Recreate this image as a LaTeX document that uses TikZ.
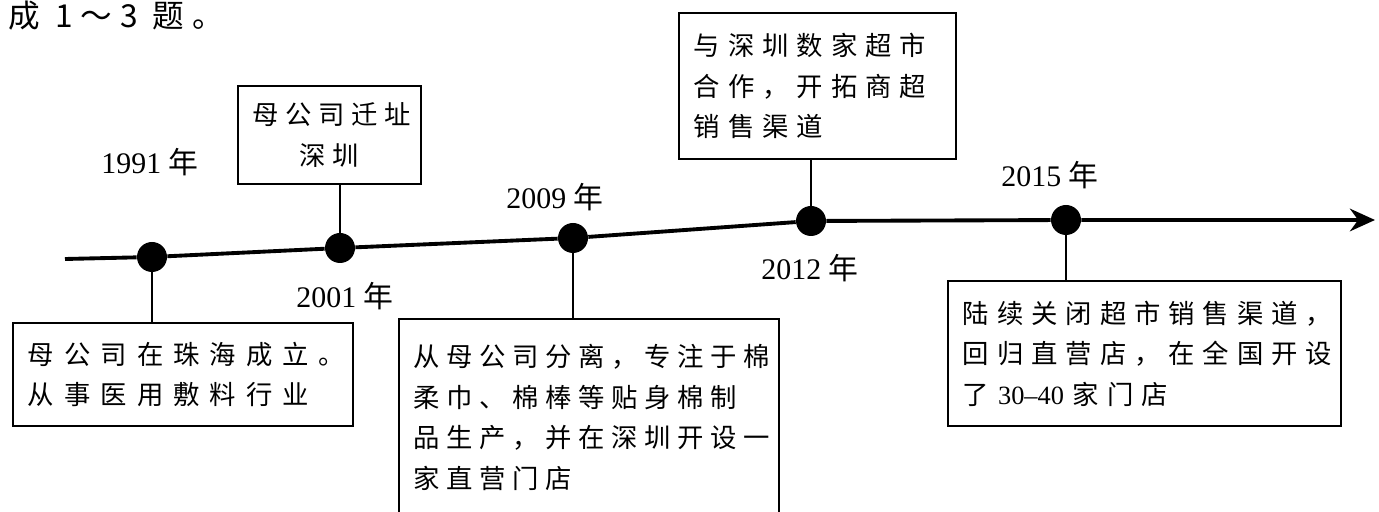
\documentclass[tikz,border=0pt]{standalone}
\usepackage{fontspec}
\setmainfont{Liberation Serif}
\newfontfamily\cjk[LetterSpace=25]{Noto Sans CJK SC}
\usetikzlibrary{arrows.meta}

\tikzset{
  dot/.style={circle, fill, inner sep=0pt, minimum size=6mm},
  eventbox/.style={draw, line width=1.1pt, anchor=north west, inner xsep=3mm,
    font=\cjk\fontsize{15}{23}\selectfont, align=left},
  yearlabel/.style={font=\fontsize{17}{20}\selectfont},
  stem/.style={line width=1.1pt}
}

\begin{document}
\begin{tikzpicture}
            \useasboundingbox (0,0) rectangle (27.58,10.22);

            \node[anchor=west, font=\cjk\fontsize{18}{20}\selectfont] (head) at (0.05,9.9) {成 1～3 题。};

            \coordinate (start) at (1.30,5.04);
            \coordinate (end) at (27.50,5.82);
            \node[dot] (d1991) at (3.04,5.08) {};
            \node[dot] (d2001) at (6.80,5.26) {};
            \node[dot] (d2009) at (11.46,5.46) {};
            \node[dot] (d2012) at (16.22,5.80) {};
            \node[dot] (d2015) at (21.32,5.82) {};

            \node[yearlabel] (y1991) at (3.00,6.98) {1991 {\cjk 年}};
            \node[yearlabel] (y2001) at (6.90,4.30) {2001 {\cjk 年}};
            \node[yearlabel] (y2009) at (11.10,6.28) {2009 {\cjk 年}};
            \node[yearlabel] (y2012) at (16.20,4.86) {2012 {\cjk 年}};
            \node[yearlabel] (y2015) at (21.00,6.72) {2015 {\cjk 年}};

            \node[eventbox, text width=6.2cm, minimum height=2.06cm] (b1991) at (0.24,3.78)
              {\addfontfeature{LetterSpace=38}母公司在珠海成立。\\从事医用敷料行业};
            \node[eventbox, text width=3.06cm, minimum height=1.96cm, align=center] (b2001) at (4.74,8.52)
              {母公司迁址\\深圳};
            \node[eventbox, text width=7.0cm, minimum height=3.94cm] (b2009) at (7.96,3.86)
              {从母公司分离，专注于棉\\柔巾、棉棒等贴身棉制\\品生产，并在深圳开设一\\家直营门店};
            \node[eventbox, text width=4.94cm, minimum height=2.92cm] (b2012) at (13.56,9.98)
              {\addfontfeature{LetterSpace=30}与深圳数家超市\\合作，开拓商超\\销售渠道};
            \node[eventbox, text width=7.26cm, minimum height=2.9cm] (b2015) at (18.94,4.62)
              {\addfontfeature{LetterSpace=30}陆续关闭超市销售渠道，\\回归直营店，在全国开设\\了 {\normalfont 30–40} 家门店};

            \draw[line width=2.2pt, -{Stealth[length=5mm, width=4.5mm]}]
              (start) -- (d1991) -- (d2001) -- (d2009) -- (d2012) -- (d2015) -- (end);

            \draw[stem] (d1991) -- (d1991 |- b1991.north);
            \draw[stem] (d2001) -- (d2001 |- b2001.south);
            \draw[stem] (d2009) -- (d2009 |- b2009.north);
            \draw[stem] (d2012) -- (d2012 |- b2012.south);
            \draw[stem] (d2015) -- (d2015 |- b2015.north);
\end{tikzpicture}
\end{document}
